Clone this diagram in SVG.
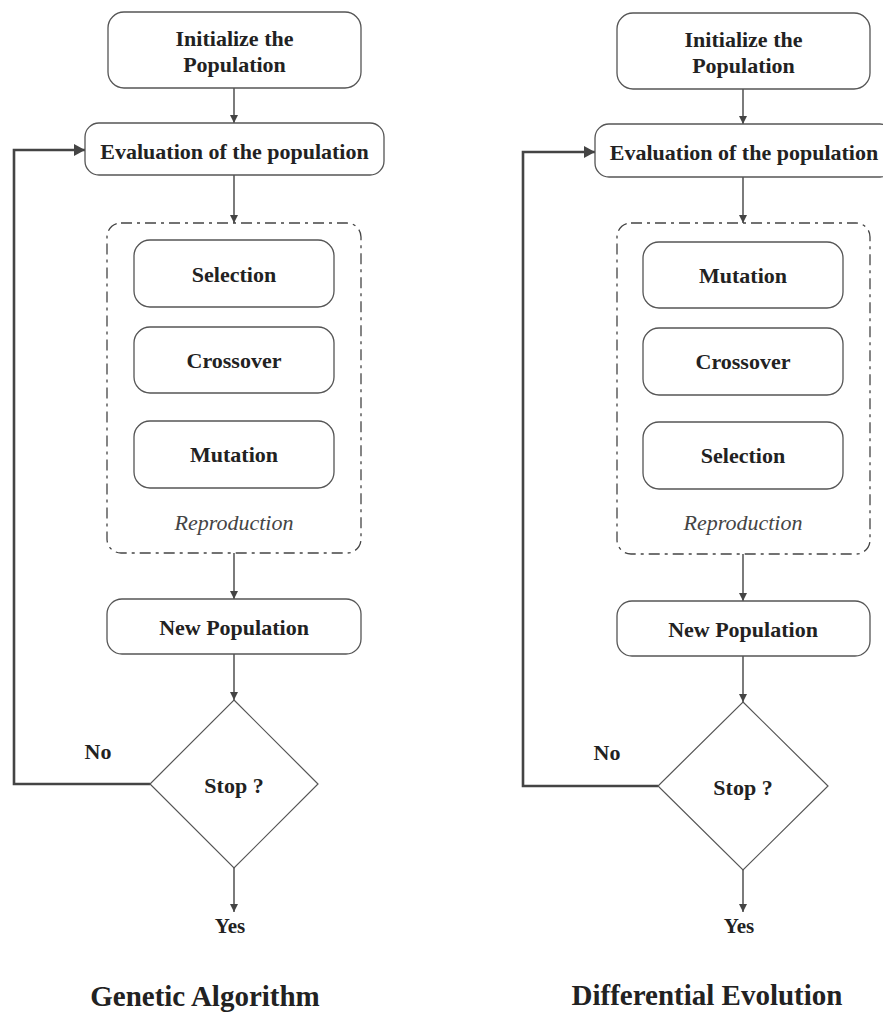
<svg xmlns="http://www.w3.org/2000/svg" width="883" height="1014" viewBox="0 0 883 1014">
<style>
.box{fill:#fff;stroke:#555;stroke-width:1.3}
.grp{fill:none;stroke:#444;stroke-width:1.3;stroke-dasharray:11 5 3 5}
.dia{fill:#fff;stroke:#555;stroke-width:1.2}
.t{font-family:"Liberation Serif","Times New Roman",serif;font-weight:bold;font-size:22px;fill:#222;text-anchor:middle}
.it{font-family:"Liberation Serif","Times New Roman",serif;font-style:italic;font-size:22px;fill:#444;text-anchor:middle}
.title{font-family:"Liberation Serif","Times New Roman",serif;font-weight:bold;font-size:29px;fill:#222;text-anchor:middle}
.c{fill:none;stroke:#444;stroke-width:1.4}
.loop{fill:none;stroke:#444;stroke-width:2.6}
</style>
<defs>
<marker id="ah" markerUnits="userSpaceOnUse" markerWidth="10" markerHeight="10" refX="8" refY="4" orient="auto">
<path d="M0,0 L8,4 L0,8 z" fill="#444"/>
</marker>
<marker id="ahb" markerUnits="userSpaceOnUse" markerWidth="14" markerHeight="14" refX="11" refY="6" orient="auto">
<path d="M0,0 L11,6 L0,12 z" fill="#444"/>
</marker>
</defs>

<g id="connectors">
<path class="c" d="M234,88 V123" marker-end="url(#ah)"/>
<path class="c" d="M234,175 V223" marker-end="url(#ah)"/>
<path class="c" d="M234,553 V599" marker-end="url(#ah)"/>
<path class="c" d="M234,654 V700" marker-end="url(#ah)"/>
<path class="c" d="M234,868 V912" marker-end="url(#ah)"/>
<path class="loop" d="M150,784 H14 V150 H85" marker-end="url(#ahb)"/>
<path class="c" d="M743,89 V124" marker-end="url(#ah)"/>
<path class="c" d="M743,177 V223" marker-end="url(#ah)"/>
<path class="c" d="M743,554 V601" marker-end="url(#ah)"/>
<path class="c" d="M743,656 V702" marker-end="url(#ah)"/>
<path class="c" d="M743,870 V912" marker-end="url(#ah)"/>
<path class="loop" d="M658,786 H523 V152 H595" marker-end="url(#ahb)"/>
</g>

<!-- Genetic Algorithm -->
<g id="ga-init"><rect class="box" x="108" y="12" width="253" height="76" rx="16"/>
<text class="t" x="234.5" y="46">Initialize the</text><text class="t" x="234.5" y="72">Population</text></g>
<g id="ga-eval"><rect class="box" x="85" y="123" width="299" height="52" rx="14"/>
<text class="t" x="234.5" y="159">Evaluation of the population</text></g>
<g id="ga-repro"><rect class="grp" x="107" y="223" width="254" height="330" rx="14"/>
<text class="it" x="234" y="530">Reproduction</text></g>
<g id="ga-selection"><rect class="box" x="134" y="240" width="200" height="67" rx="16"/>
<text class="t" x="234" y="282">Selection</text></g>
<g id="ga-crossover"><rect class="box" x="134" y="327" width="200" height="66" rx="16"/>
<text class="t" x="234" y="368">Crossover</text></g>
<g id="ga-mutation"><rect class="box" x="134" y="421" width="200" height="67" rx="16"/>
<text class="t" x="234" y="462">Mutation</text></g>
<g id="ga-newpop"><rect class="box" x="107" y="599" width="254" height="55" rx="15"/>
<text class="t" x="234" y="635">New Population</text></g>
<g id="ga-stop"><polygon class="dia" points="234,700 318,784 234,868 150,784"/>
<text class="t" x="234" y="793">Stop ?</text></g>
<g id="ga-no"><text class="t" x="98" y="759">No</text></g>
<g id="ga-yes"><text class="t" x="230" y="933" style="font-size:21px">Yes</text></g>
<g id="ga-title"><text class="title" x="205" y="1006">Genetic Algorithm</text></g>

<!-- Differential Evolution -->
<g id="de-init"><rect class="box" x="617" y="13" width="253" height="76" rx="16"/>
<text class="t" x="743.5" y="47">Initialize the</text><text class="t" x="743.5" y="73">Population</text></g>
<g id="de-eval"><rect class="box" x="595" y="124" width="299" height="53" rx="14"/>
<text class="t" x="744" y="160">Evaluation of the population</text></g>
<g id="de-repro"><rect class="grp" x="617" y="223" width="253" height="331" rx="14"/>
<text class="it" x="743" y="530">Reproduction</text></g>
<g id="de-mutation"><rect class="box" x="643" y="242" width="200" height="66" rx="16"/>
<text class="t" x="743" y="283">Mutation</text></g>
<g id="de-crossover"><rect class="box" x="643" y="328" width="200" height="67" rx="16"/>
<text class="t" x="743" y="369">Crossover</text></g>
<g id="de-selection"><rect class="box" x="643" y="422" width="200" height="67" rx="16"/>
<text class="t" x="743" y="463">Selection</text></g>
<g id="de-newpop"><rect class="box" x="617" y="601" width="253" height="55" rx="15"/>
<text class="t" x="743" y="637">New Population</text></g>
<g id="de-stop"><polygon class="dia" points="743,702 828,786 743,870 658,786"/>
<text class="t" x="743" y="795">Stop ?</text></g>
<g id="de-no"><text class="t" x="607" y="760">No</text></g>
<g id="de-yes"><text class="t" x="739" y="933" style="font-size:21px">Yes</text></g>
<g id="de-title"><text class="title" x="707" y="1005">Differential Evolution</text></g>
</svg>
